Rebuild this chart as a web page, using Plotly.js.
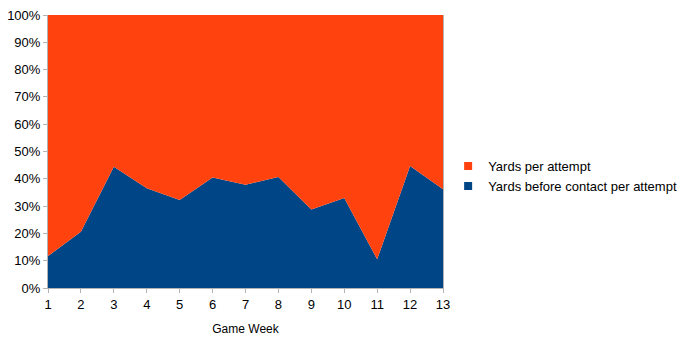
<!DOCTYPE html>
<html><head><meta charset="utf-8">
<script src="https://cdn.plot.ly/plotly-3.0.1.min.js"></script>
<style>html,body{margin:0;padding:0;background:#fff}</style>
</head><body>
<div id="chart" style="width:690px;height:356px"></div>
<script>
const weeks = [1,2,3,4,5,6,7,8,9,10,11,12,13];
const beforeContactShare = [11.7,20.6,44.4,36.5,32.2,40.5,37.8,40.7,28.8,33.0,10.5,44.7,36.2];
const perAttemptShare = [88.3,79.4,55.6,63.5,67.8,59.5,62.2,59.3,71.2,67.0,89.5,55.3,63.8];
const tickVals = [0,10,20,30,40,50,60,70,80,90,100];
const tickText = ["0%","10%","20%","30%","40%","50%","60%","70%","80%","90%","100%"];
const blue = "#004586", red = "#ff420e";

const traces = [
  {x: weeks, y: beforeContactShare, name: "Yards before contact per attempt", type: "scatter", mode: "lines",
   stackgroup: "one", groupnorm: "percent", line: {width: 0, color: blue}, fillcolor: blue, showlegend: false},
  {x: weeks, y: perAttemptShare, name: "Yards per attempt", type: "scatter", mode: "lines",
   stackgroup: "one", line: {width: 0, color: red}, fillcolor: red, showlegend: false},
  {x: [null], y: [null], name: "Yards before contact per attempt", type: "scatter", mode: "markers",
   marker: {symbol: "square", size: 8, color: blue}},
  {x: [null], y: [null], name: "Yards per attempt", type: "scatter", mode: "markers",
   marker: {symbol: "square", size: 8, color: red}}
];
const layout = {
  width: 690, height: 356,
  margin: {l: 48, r: 247, t: 15, b: 68, autoexpand: false},
  paper_bgcolor: "#fff", plot_bgcolor: "#fff",
  font: {family: "Liberation Sans, Arial, sans-serif", size: 12, color: "#000"},
  showlegend: true,
  legend: {x: 1.013, y: 0.41, xanchor: "left", yanchor: "middle", traceorder: "reversed",
           font: {size: 13}, tracegroupgap: 0, bgcolor: "rgba(0,0,0,0)"},
  xaxis: {range: [1, 13], tickmode: "array", tickvals: weeks, ticktext: weeks.map(String),
          showgrid: false, zeroline: false, showline: true, linecolor: "#b3b3b3", linewidth: 1,
          ticks: "outside", ticklen: 4, tickcolor: "#b3b3b3", tickfont: {size: 13},
          title: {text: "Game Week", font: {size: 12}, standoff: 14}},
  yaxis: {range: [0, 100], tickmode: "array", tickvals: tickVals, ticktext: tickText,
          showgrid: false, zeroline: false, showline: true, mirror: true, linecolor: "#b3b3b3", linewidth: 1,
          ticks: "outside", ticklen: 4, tickcolor: "#b3b3b3", tickfont: {size: 13}}
};
Plotly.newPlot("chart", traces, layout, {displayModeBar: false, staticPlot: true});
</script>
</body></html>
